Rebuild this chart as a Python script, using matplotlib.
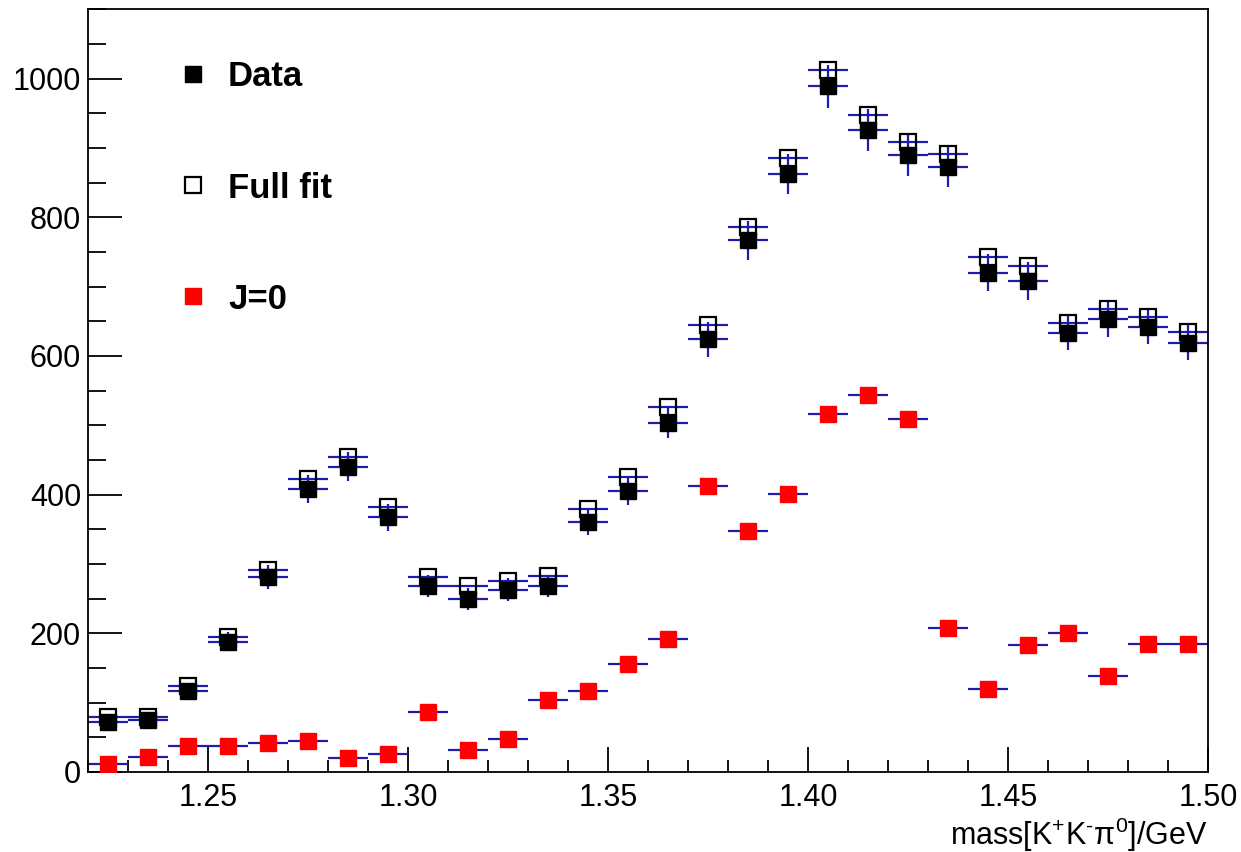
#!/usr/bin/env python3
"""Mass spectrum of K+K-pi0: data, full fit and J=0 component."""

import matplotlib
matplotlib.use('Agg')
import matplotlib.pyplot as plt
from matplotlib.lines import Line2D
from matplotlib.ticker import MultipleLocator, FormatStrFormatter

# bin centres (GeV), bin width 0.01
mass = [1.225, 1.235, 1.245, 1.255, 1.265, 1.275, 1.285, 1.295, 1.305, 1.315,
        1.325, 1.335, 1.345, 1.355, 1.365, 1.375, 1.385, 1.395, 1.405, 1.415,
        1.425, 1.435, 1.445, 1.455, 1.465, 1.475, 1.485, 1.495]
bin_half = [0.005] * len(mass)

data = [72, 75, 116, 188, 281, 408, 440, 367, 268, 249,
        263, 268, 361, 405, 503, 624, 767, 862, 989, 926,
        890, 873, 720, 708, 633, 653, 642, 619]
data_err = [8, 9, 11, 14, 17, 20, 21, 19, 16, 16,
            16, 16, 19, 20, 22, 25, 28, 29, 31, 30,
            30, 30, 27, 27, 25, 26, 25, 25]

full_fit = [79, 79, 124, 194, 291, 422, 454, 382, 281, 268,
            275, 283, 379, 425, 527, 645, 786, 885, 1012, 948,
            908, 891, 743, 729, 648, 668, 656, 634]

j0 = [12, 21, 38, 38, 42, 44, 20, 26, 87, 32,
      47, 104, 116, 156, 191, 412, 347, 401, 516, 543,
      509, 208, 119, 183, 200, 139, 185, 185]

labels = ['Data', 'Full fit', 'J=0']


def main():
    plt.rcParams['font.family'] = ['Liberation Sans', 'DejaVu Sans']
    plt.rcParams['mathtext.default'] = 'regular'

    fig = plt.figure(figsize=(12.41, 8.52), dpi=100)
    ax = fig.add_axes([0.0709, 0.0940, 0.9025, 0.8951])

    blue = '#1c1cb0'
    # error bars (drawn first, markers on top)
    ax.errorbar(mass, data, xerr=bin_half, yerr=data_err, fmt='none',
                ecolor=blue, elinewidth=1.6, capsize=0, zorder=2)
    ax.errorbar(mass, full_fit, xerr=bin_half, fmt='none',
                ecolor=blue, elinewidth=1.6, capsize=0, zorder=2)
    ax.errorbar(mass, j0, xerr=bin_half, fmt='none',
                ecolor=blue, elinewidth=1.6, capsize=0, zorder=2)

    ax.plot(mass, data, ls='none', marker='s', ms=12, color='black',
            mec='black', zorder=3)
    ax.plot(mass, full_fit, ls='none', marker='s', ms=11.5, mfc='none',
            mec='black', mew=1.6, zorder=4)
    ax.plot(mass, j0, ls='none', marker='s', ms=11.5, color='red',
            mec='red', zorder=3)

    ax.set_xlim(1.22, 1.50)
    ax.set_ylim(0, 1100)

    ax.xaxis.set_major_locator(MultipleLocator(0.05))
    ax.xaxis.set_minor_locator(MultipleLocator(0.01))
    ax.xaxis.set_major_formatter(FormatStrFormatter('%.2f'))
    ax.yaxis.set_major_locator(MultipleLocator(200))
    ax.yaxis.set_minor_locator(MultipleLocator(50))

    ax.tick_params(axis='both', which='both', direction='in',
                   top=False, right=False, labelsize=22, width=1.3)
    ax.tick_params(axis='x', which='major', length=18, pad=8)
    ax.tick_params(axis='x', which='minor', length=8.6)
    ax.tick_params(axis='y', which='major', length=24.5, pad=5)
    ax.tick_params(axis='y', which='minor', length=13)
    for sp in ax.spines.values():
        sp.set_linewidth(1.3)

    ax.set_xlabel('mass[K$^{+}$K$^{\u2010}$\u03c0$^{0}$]/GeV', fontsize=22,
                  loc='right')
    ax.xaxis.set_label_coords(1.0, -0.057)

    handles = [
        Line2D([], [], ls='none', marker='s', ms=12, color='black'),
        Line2D([], [], ls='none', marker='s', ms=11.5, mfc='none',
               mec='black', mew=1.6),
        Line2D([], [], ls='none', marker='s', ms=11.5, color='red'),
    ]
    ax.legend(handles, labels, loc='upper left',
              bbox_to_anchor=(0.0783, 0.933), frameon=False,
              prop={'size': 25, 'weight': 'bold'}, handlelength=1.0,
              handletextpad=0.51, labelspacing=2.25, borderaxespad=0,
              borderpad=0)

    fig.savefig('out.png', dpi=100)


if __name__ == '__main__':
    main()
